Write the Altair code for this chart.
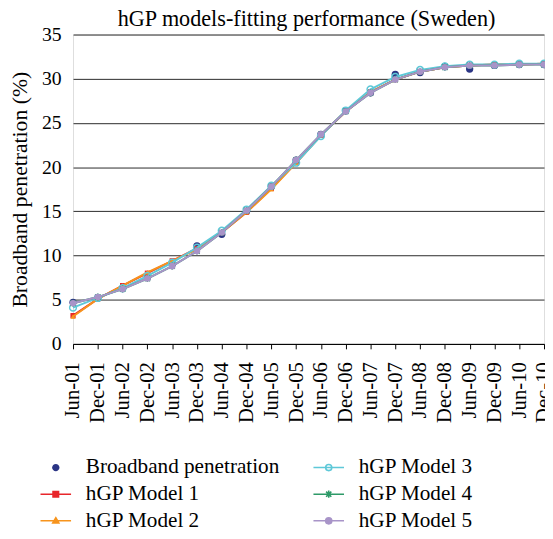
import altair as alt
import pandas as pd

dates = ["Jun-01", "Dec-01", "Jun-02", "Dec-02", "Jun-03", "Dec-03", "Jun-04", "Dec-04",
         "Jun-05", "Dec-05", "Jun-06", "Dec-06", "Jun-07", "Dec-07", "Jun-08", "Dec-08",
         "Jun-09", "Dec-09", "Jun-10", "Dec-10"]

broadband = [4.7, 5.2, 6.3, 7.5, 9.0, 11.1, 12.4, 15.0, 17.8, 20.8, 23.7, 26.4, 28.4, 30.5,
             30.7, 31.4, 31.1, 31.5, 31.6, 31.6]
model1 = [3.2, 5.1, 6.6, 8.0, 9.4, 10.8, 12.6, 14.9, 17.6, 20.5, 23.6, 26.3, 28.5, 29.9,
          30.8, 31.3, 31.5, 31.6, 31.6, 31.7]
model2 = [3.1, 5.1, 6.6, 8.1, 9.4, 10.7, 12.6, 14.9, 17.5, 20.5, 23.6, 26.3, 28.5, 29.9,
          30.8, 31.3, 31.5, 31.6, 31.6, 31.7]
model3 = [4.1, 5.2, 6.3, 7.7, 9.2, 10.9, 12.8, 15.2, 17.9, 20.5, 23.5, 26.4, 28.8, 30.2,
          31.0, 31.4, 31.6, 31.6, 31.7, 31.7]
model4 = [4.6, 5.3, 6.2, 7.4, 8.8, 10.5, 12.6, 15.1, 17.8, 20.8, 23.7, 26.3, 28.4, 29.9,
          30.8, 31.3, 31.5, 31.5, 31.6, 31.6]
model5 = [4.6, 5.3, 6.2, 7.4, 8.8, 10.5, 12.6, 15.1, 17.8, 20.8, 23.7, 26.3, 28.4, 29.9,
          30.8, 31.3, 31.5, 31.5, 31.6, 31.6]

names = ["Broadband penetration", "hGP Model 1", "hGP Model 2", "hGP Model 3",
         "hGP Model 4", "hGP Model 5"]
colors = ["#2b3585", "#e8262b", "#f7941d", "#5ec8d8", "#2e9a68", "#a894c8"]
values = [broadband, model1, model2, model3, model4, model5]

FONT = "Liberation Serif"

frames = []
for n, v in zip(names, values):
    frames.append(pd.DataFrame({"date": dates, "value": v, "series": n}))
df = pd.concat(frames, ignore_index=True)

x = alt.X("date:N", sort=dates, scale=alt.Scale(type="point", padding=0, domain=dates),
          axis=alt.Axis(title=None, labelAngle=-90, labelAlign="right", labelBaseline="middle",
                        labelPadding=13, tickSize=5, tickColor="#000", domainColor="#000",
                        labelFontSize=21, labelFont=FONT, labelColor="#000", grid=False))
y = alt.Y("value:Q", scale=alt.Scale(domain=[0, 35]),
          axis=alt.Axis(title="Broadband penetration (%)", values=[0, 5, 10, 15, 20, 25, 30, 35],
                        domain=False, ticks=False, labelPadding=12, grid=True,
                        gridColor="#2a2a2a", gridWidth=1, labelFontSize=20, labelFont=FONT,
                        labelColor="#000", titleFontSize=22, titleFont=FONT,
                        titleFontWeight="normal", titleColor="#000", titlePadding=10))

base = alt.Chart(df)

asterisk = "M-1,-1L1,1M-1,1L1,-1M0,-1.3V1.3"
marker_specs = {
    "Broadband penetration": dict(shape="circle", filled=True, size=55),
    "hGP Model 1": dict(shape="square", filled=True, size=28),
    "hGP Model 2": dict(shape="triangle-up", filled=True, size=28),
    "hGP Model 3": dict(shape="circle", filled=False, size=48, strokeWidth=1.5),
    "hGP Model 4": dict(shape=asterisk, filled=False, size=30, strokeWidth=1.3),
    "hGP Model 5": dict(shape="circle", filled=True, size=45),
}

layers = []
for n, c in zip(names, colors):
    sub = base.transform_filter(alt.datum.series == n)
    if n != "Broadband penetration":
        layers.append(sub.mark_line(color=c, strokeWidth=2).encode(x=x, y=y))
    spec = marker_specs[n]
    layers.append(sub.mark_point(color=c, opacity=1, **spec).encode(x=x, y=y))

# legend layer (no visible marks; explicit domains produce the entries)
legend_order = names
cmap = dict(zip(names, colors))
ln = "M-1,0H1"
r = 0.2
circ = f"M{r},0A{r},{r} 0 1,1 -{r},0A{r},{r} 0 1,1 {r},0Z"
leg_paths = {
    "Broadband penetration": "M0.24,0A0.24,0.24 0 1,1 -0.24,0A0.24,0.24 0 1,1 0.24,0Z",
    "hGP Model 1": ln + "M-0.18,-0.18H0.18V0.18H-0.18Z",
    "hGP Model 2": ln + "M0,-0.2L0.2,0.15H-0.2Z",
    "hGP Model 3": ln + circ,
    "hGP Model 4": ln + "M-0.17,-0.17L0.17,0.17M-0.17,0.17L0.17,-0.17M0,-0.24V0.24",
    "hGP Model 5": ln + circ,
}
leg_fill = {
    "Broadband penetration": cmap["Broadband penetration"],
    "hGP Model 1": cmap["hGP Model 1"],
    "hGP Model 2": cmap["hGP Model 2"],
    "hGP Model 3": "#ffffff",
    "hGP Model 4": "transparent",
    "hGP Model 5": cmap["hGP Model 5"],
}
leg_stroke = dict(cmap)
leg_stroke["Broadband penetration"] = "transparent"

legend = alt.Legend(title=None, orient="none", legendX=-34, legendY=423, columns=2,
                    symbolSize=961, symbolStrokeWidth=1.6, labelFontSize=21.5, labelFont=FONT,
                    labelColor="#000", labelOffset=14, columnPadding=30, rowPadding=0,
                    symbolOpacity=1, labelLimit=0)

leg_layer = base.transform_filter("false").mark_point(opacity=1).encode(
    x=x, y=y,
    shape=alt.Shape("series:N", scale=alt.Scale(domain=legend_order,
                                                range=[leg_paths[k] for k in legend_order]),
                    legend=legend),
    fill=alt.Fill("series:N", scale=alt.Scale(domain=legend_order,
                                              range=[leg_fill[k] for k in legend_order]),
                  legend=legend),
    stroke=alt.Stroke("series:N", scale=alt.Scale(domain=legend_order,
                                                  range=[leg_stroke[k] for k in legend_order]),
                      legend=legend),
)
layers.append(leg_layer)

chart = alt.layer(*layers).properties(
    width=478, height=314,
    title=alt.TitleParams("hGP models-fitting performance (Sweden)", font=FONT, fontSize=22.5,
                          fontWeight="normal", color="#000", offset=-6, dx=-2),
    autosize=alt.AutoSizeParams(type="none"),
    padding={"left": 66, "top": 23, "right": 1, "bottom": 190},
).configure_view(stroke=None).configure(background="#ffffff")

chart.save("out.html", embed_options={"renderer": "svg", "actions": False})
